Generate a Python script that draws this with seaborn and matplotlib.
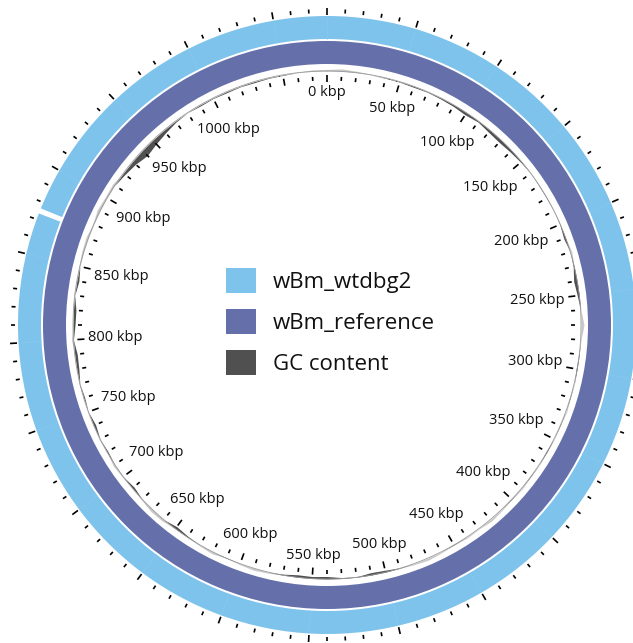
import numpy as np
import matplotlib
matplotlib.use("Agg")
import matplotlib.pyplot as plt
from matplotlib.patches import Patch
import seaborn as sns

# ---- data -------------------------------------------------------------
GENOME_KBP = 1080
wtdbg2_blocks = [(0, 873.5), (876.5, 1080)]      # aligned blocks, kbp
reference_blocks = [(0, 1080)]                   # kbp
gc_positions = np.arange(0, 1080, 10)            # window starts, kbp
gc_deviation = [
    1.5, 2.5, 1.5, 0.5, -0.5, -0.5, -1, -0.5, -1, -1.5,
    -2.5, -1, -2.5, -3, -2, -1, 0.5, -0.5, -0.5, 0.5,
    -0.5, -2, 1.5, -1, -3.5, -2, 0.5, 3, 0.5, -0.5,
    -1, 0.5, -0.5, 1, -0.5, 0.5, -1, 0.5, -0.5, 1,
    -0.5, 1, 2, 0.5, 1, -0.5, 1, 2, 1, -0.5,
    -2, -2.5, -0.5, -1, -2.5, -2, -2.5, -1, 1, 2,
    1, -0.5, 2, 1, -1, -2.5, 2, 2.5, 1, -2,
    1, 2, -1, 1, -2, 0.5, -1, 1, -2, -2.5,
    2, -2, -2.5, 1, -2, 1, 2, 2.5, 1, 3,
    2, 2.5, -2, -4, -7, -5, -3, -1, 0.5, -1,
    -0.5, -1, -0.5, -1, -0.5, -0.5, 0.5, 1.5,
]
label_positions = list(range(0, 1001, 50))
tick_labels = [f"{p} kbp" for p in label_positions]
legend_labels = ["wBm_wtdbg2", "wBm_reference", "GC content"]

# ---- style ------------------------------------------------------------
sns.set_theme(style="white")
plt.rcParams["font.family"] = ["Open Sans", "DejaVu Sans"]

LIGHT = "#7DC3EB"
DARK = "#6570AA"
GC_DARK = "#505050"
GC_LIGHT = "#C8C8C8"

R_LIGHT = (286, 309)
R_DARK = (261, 284)
R_GC = 254
INNER_TICK_MID = 246.5
OUTER_TICK_MID = 314

DPI = 100
W, H = 633, 643
CX, CY = 327, 325        # ring centre in pixels from top-left
RMAX = 320


def to_theta(kbp):
    return 2 * np.pi * np.asarray(kbp, dtype=float) / GENOME_KBP


fig = plt.figure(figsize=(W / DPI, H / DPI), dpi=DPI)
ax = fig.add_axes([(CX - RMAX) / W, (H - CY - RMAX) / H, 2 * RMAX / W, 2 * RMAX / H],
                  projection="polar")
ax.set_theta_zero_location("N")
ax.set_theta_direction(-1)
ax.set_ylim(0, RMAX)
ax.set_axis_off()

# ---- rings ------------------------------------------------------------
for start, end in reference_blocks:
    th0, th1 = to_theta(start), to_theta(end)
    ax.bar((th0 + th1) / 2, R_DARK[1] - R_DARK[0], width=th1 - th0,
           bottom=R_DARK[0], color=DARK, linewidth=0)

for start, end in wtdbg2_blocks:
    th0, th1 = to_theta(start), to_theta(end)
    ax.bar((th0 + th1) / 2, R_LIGHT[1] - R_LIGHT[0], width=th1 - th0,
           bottom=R_LIGHT[0], color=LIGHT, linewidth=0)

# faint segment seams every 50 kbp in the outer ring
seams = to_theta(np.arange(0, GENOME_KBP, 50))
ax.vlines(seams, R_LIGHT[0], R_LIGHT[1], color="#87C8ED", linewidth=0.6)

# ---- GC content -------------------------------------------------------
pos = np.append(gc_positions, GENOME_KBP)
dev = np.append(gc_deviation, gc_deviation[0]).astype(float)
th = to_theta(pos)
ax.fill_between(th, R_GC, R_GC + np.clip(dev, 0, None), color=GC_LIGHT, linewidth=0)
ax.fill_between(th, R_GC + np.clip(dev, None, 0), R_GC, color=GC_DARK, linewidth=0)
circle_t = np.linspace(0, 2 * np.pi, 721)
sns.lineplot(x=circle_t, y=np.full_like(circle_t, R_GC), ax=ax, sort=False,
             color="#9A9A9A", linewidth=0.6)
ax.set_axis_off()

# ---- scale ticks --------------------------------------------------------
minor = np.arange(0, GENOME_KBP, 10)
is_major = (minor % 50) == 0
for mid in (INNER_TICK_MID, OUTER_TICK_MID):
    ax.vlines(to_theta(minor[~is_major]), mid - 2, mid + 2, color="black", linewidth=1.2)
    ax.vlines(to_theta(minor[is_major]), mid - 3.5, mid + 3.5, color="black", linewidth=1.2)

# ---- position labels ----------------------------------------------------
renderer = fig.canvas.get_renderer()
r_anchor = 239.5
for p, lab in zip(label_positions, tick_labels):
    t = to_theta(p)
    ann = ax.annotate(lab, xy=(t, r_anchor), xytext=(0, 0), textcoords="offset points",
                      ha="center", va="center", fontsize=10.5, color="#111111")
    bb = ann.get_window_extent(renderer=renderer)
    ux, uy = np.sin(t), np.cos(t)
    d = abs(ux) * bb.width / 2 + abs(uy) * bb.height / 2
    scale = 72.0 / DPI
    ann.xyann = (-ux * d * scale, -uy * d * scale)

# ---- legend -------------------------------------------------------------
handles = [Patch(facecolor=c, edgecolor="none") for c in (LIGHT, DARK, GC_DARK)]
fig.legend(handles, legend_labels, loc="upper left",
           bbox_to_anchor=(226 / W, 1 - 268 / H), bbox_transform=fig.transFigure,
           frameon=False, fontsize=16, handlelength=1.35, handleheight=1.35,
           labelspacing=0.72, handletextpad=0.75, borderpad=0, borderaxespad=0,
           labelcolor="#111111")

fig.savefig("out.png", dpi=DPI)
